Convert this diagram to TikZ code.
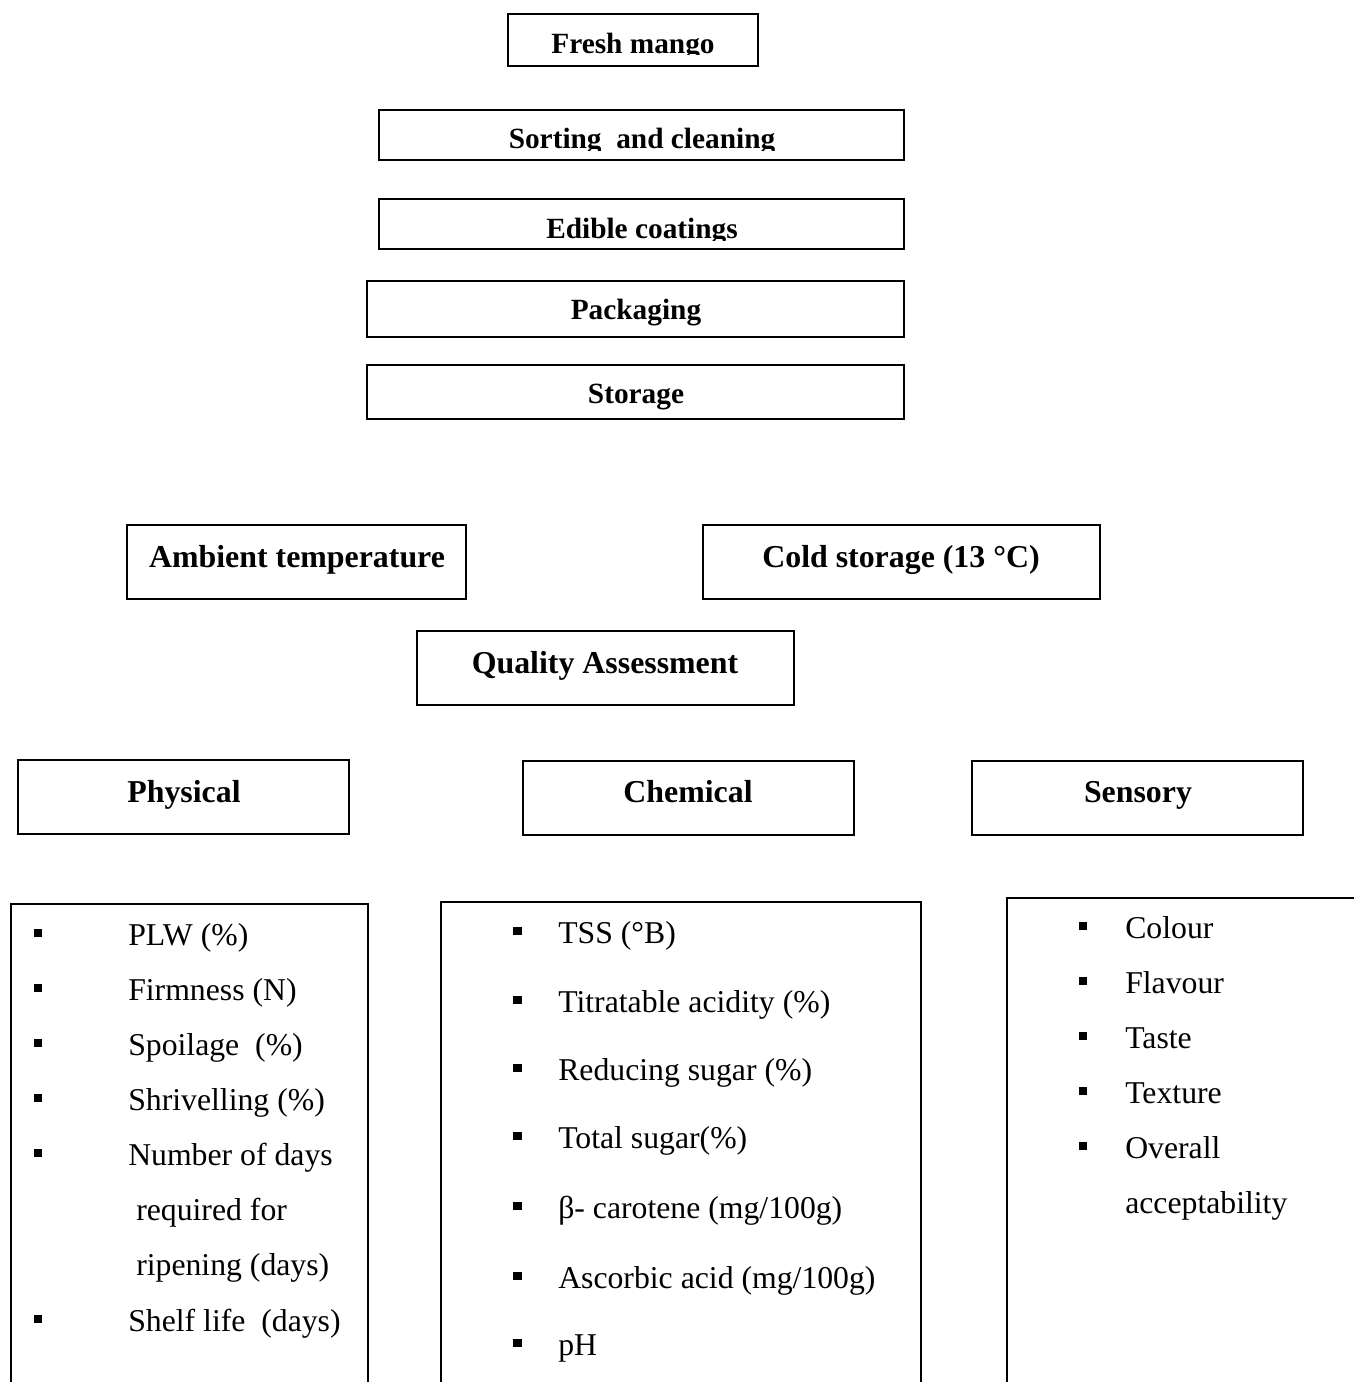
\documentclass[tikz,border=0pt]{standalone}
\usepackage{fontspec}
\setmainfont{Liberation Serif}
\begin{document}
\begin{tikzpicture}[x=0.75pt,y=-0.75pt,
  bx/.style 2 args={draw, line width=1.3pt, inner sep=0pt, minimum width=#1*0.75pt, minimum height=#2*0.75pt},
  ttl/.style={anchor=base, inner sep=0pt, font=\fontsize{22}{26}\selectfont\bfseries},
  mid/.style={anchor=base, inner sep=0pt, font=\fontsize{23.9}{28}\selectfont\bfseries},
  itm/.style={anchor=base west, inner sep=0pt, font=\fontsize{23.8}{28}\selectfont},
  blt/.style={fill=black, inner sep=0pt, minimum width=6.6pt, minimum height=6.2pt},
  lst/.style={line width=1.3pt}]
\useasboundingbox (0,0) rectangle (1354,1382);
% process boxes
\node[bx={250}{52}] (fm) at (633,40) {};
\node[bx={525}{50}] (sc) at (641.5,135) {};
\node[bx={525}{50}] (ec) at (641.5,224) {};
\node[bx={537}{56}] (pk) at (635.5,309) {};
\node[bx={537}{54}] (st) at (635.5,392) {};
\begin{scope}
  \clip (500,0) rectangle (770,54.5);
  \node[ttl] (fmt) at (633,53) {Fresh mango};
\end{scope}
\begin{scope}
  \clip (380,100) rectangle (900,150);
  \node[ttl] (sct) at (642,148) {Sorting~~and cleaning};
\end{scope}
\begin{scope}
  \clip (380,190) rectangle (900,240);
  \node[ttl] (ect) at (642,238) {Edible coatings};
\end{scope}
\node[ttl] (pkt) at (636,319) {Packaging};
\node[ttl] (stt) at (636,403) {Storage};
% storage conditions
\node[bx={339}{74}] (am) at (296.5,562) {};
\node[bx={397}{74}] (cs) at (901.5,562) {};
\node[bx={377}{74}] (qa) at (605.5,668) {};
\node[mid] (amt) at (297,567) {Ambient temperature};
\node[mid] (cst) at (901,567) {Cold storage (13 °C)};
\node[mid] (qat) at (605,673) {Quality Assessment};
% categories
\node[bx={331}{74}] (ph) at (183.5,797) {};
\node[bx={331}{74}] (ch) at (688.5,798) {};
\node[bx={331}{74}] (se) at (1137.5,798) {};
\node[mid] (pht) at (184,802) {Physical};
\node[mid] (cht) at (688,802) {Chemical};
\node[mid] (set) at (1138,802) {Sensory};
% list frames (open at the page edge)
\draw[lst] (11,1382) |- (368,904) -- (368,1382);
\draw[lst] (441,1382) |- (921,902) -- (921,1382);
\draw[lst] (1007,1382) |- (1354,898);
% physical list
\node[itm] (p1) at (128,945) {PLW (\%)};
\node[itm] (p2) at (128,1000) {Firmness (N)};
\node[itm] (p3) at (128,1055) {Spoilage~~(\%)};
\node[itm] (p4) at (128,1110) {Shrivelling (\%)};
\node[itm] (p5) at (128,1165) {Number of days};
\node[itm] (p6) at (136,1220) {required for};
\node[itm] (p7) at (136,1275) {ripening (days)};
\node[itm] (p8) at (128,1331) {Shelf life~~(days)};
\foreach \yy/\nn in {945/1,1000/2,1055/3,1110/4,1165/5,1331/8}
  \node[blt] (pb\nn) at (38,\yy-12) {};
% chemical list
\node[itm] (c1) at (558,943) {TSS (°B)};
\node[itm] (c2) at (558,1012) {Titratable acidity (\%)};
\node[itm] (c3) at (558,1080) {Reducing sugar (\%)};
\node[itm] (c4) at (558,1148) {Total sugar(\%)};
\node[itm] (c5) at (558,1218) {β- carotene (mg/100g)};
\node[itm] (c6) at (558,1288) {Ascorbic acid (mg/100g)};
\node[itm] (c7) at (558,1355) {pH};
\foreach \yy/\nn in {943/1,1012/2,1080/3,1148/4,1218/5,1288/6,1355/7}
  \node[blt] (cb\nn) at (517.5,\yy-12) {};
% sensory list
\node[itm] (s1) at (1125,938) {Colour};
\node[itm] (s2) at (1125,993) {Flavour};
\node[itm] (s3) at (1125,1048) {Taste};
\node[itm] (s4) at (1125,1103) {Texture};
\node[itm] (s5) at (1125,1158) {Overall};
\node[itm] (s6) at (1125,1213) {acceptability};
\foreach \yy/\nn in {938/1,993/2,1048/3,1103/4,1158/5}
  \node[blt] (sb\nn) at (1083,\yy-12) {};
\end{tikzpicture}
\end{document}
